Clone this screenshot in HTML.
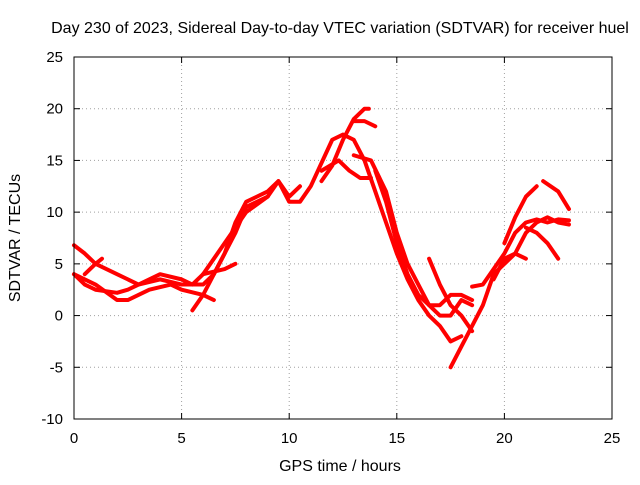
<!DOCTYPE html>
<html><head><meta charset="utf-8"><style>
body{margin:0;background:#fff;font-family:"Liberation Sans",sans-serif}
svg text{font-family:"Liberation Sans",sans-serif;font-size:15px;fill:#000}
svg text.big{font-size:16px}
</style></head><body>
<svg id="c" width="640" height="480" xmlns="http://www.w3.org/2000/svg"></svg>
<script>
const xTicks=[0,5,10,15,20,25];
const yTicks=[-10,-5,0,5,10,15,20,25];
const trackNames=["t1","t2","t3","t4","t5","t6","t7","t8","t9","t10","t11","t12","t13","t14","t15","t16","t17","t18"];
const t1=[[0,6.8],[0.5,6],[1,5],[2,4],[3,3],[4,3.5],[5,3],[6,3],[6.5,4],[7,6],[7.5,9],[8,11],[8.5,11.5],[9,12],[9.5,13],[10,11],[10.5,11],[11,12.5],[12,17],[12.5,17.5],[13,17],[13.5,15],[14,12],[14.5,9],[15,6],[15.5,3.5],[16,1.5],[16.5,0],[17,-1],[17.5,-2.5],[18,-2]];
const t2=[[0,4],[0.5,3],[1,2.5],[2,2.2],[2.5,2.5],[3,3],[4,4],[5,3.5],[5.5,3],[6,4],[7,7],[8,10],[9,11.5],[9.5,13],[10,11.5],[10.5,12.5]];
const t3=[[0.5,4],[1,5],[1.3,5.5]];
const t4=[[0,4],[1,3],[2,1.5],[2.5,1.5],[3.5,2.5],[4.5,3],[5,2.5],[6,2],[6.5,1.5]];
const t5=[[5.5,0.5],[6,2],[6.5,4],[7,6],[7.5,8],[8,10.5],[8.5,11],[9,11.5]];
const t6=[[6,4],[7,4.5],[7.5,5]];
const t7=[[11.5,13],[12,14.5],[12.5,17],[13,19],[13.5,20],[13.7,20]];
const t8=[[13,18.8],[13.5,18.8],[14,18.3]];
const t9=[[11.5,14],[12.3,15],[12.8,14],[13.3,13.3],[13.8,13.3]];
const t10=[[13,15.5],[13.8,15],[14.5,12],[15,8],[15.5,5],[16,3],[16.5,1],[17,0],[17.5,0],[18,1.5],[18.5,1]];
const t11=[[14,14],[14.5,11],[15,7],[15.5,4],[16,2],[16.5,1],[17,1],[17.5,2],[18,2],[18.5,1.5]];
const t12=[[16.5,5.5],[17,3],[17.5,1],[18,0],[18.5,-1.5]];
const t13=[[17.5,-5],[18,-3],[18.5,-1],[19,1],[19.5,4],[20,5],[20.5,6],[21,8],[21.5,9],[22,9.5],[22.5,9],[23,8.8]];
const t14=[[18.5,2.8],[19,3],[19.5,4.5],[20,6],[20.5,8],[21,9],[21.5,9.3],[22,9],[22.5,9.3],[23,9.2]];
const t15=[[19.5,3.5],[20,5.5],[20.5,6],[21,5.5]];
const t16=[[20,7],[20.5,9.5],[21,11.5],[21.5,12.5]];
const t17=[[21.8,13],[22.5,12],[23,10.3]];
const t18=[[21,8.5],[21.5,8],[22,7],[22.5,5.5]];
const tracks=[t1,t2,t3,t4,t5,t6,t7,t8,t9,t10,t11,t12,t13,t14,t15,t16,t17,t18];
const L=74,R=612,T=57,B=419,NS="http://www.w3.org/2000/svg";
const sx=v=>L+(v-0)/(25-0)*(R-L);
const sy=v=>B-(v+10)/(35)*(B-T);
const svg=document.getElementById('c');
function mk(tag,a){const e=document.createElementNS(NS,tag);for(const k in a)e.setAttribute(k,a[k]);svg.appendChild(e);return e;}
xTicks.forEach(v=>{
  if(v>0&&v<25){const g=mk('line',{x1:sx(v),x2:sx(v),y1:T,y2:B,stroke:'#a0a0a0','stroke-dasharray':'1,3'});
  }
  mk('line',{x1:sx(v),x2:sx(v),y1:B,y2:B-6,stroke:'#000'});mk('line',{x1:sx(v),x2:sx(v),y1:T,y2:T+6,stroke:'#000'});
  const t=mk('text',{x:sx(v),y:B+24,'text-anchor':'middle'});t.textContent=v;
  
});
yTicks.forEach(v=>{
  if(v>-10&&v<25){const g=mk('line',{x1:L,x2:R,y1:sy(v),y2:sy(v),stroke:'#a0a0a0','stroke-dasharray':'1,3'});
  }
  mk('line',{x1:L,x2:L+6,y1:sy(v),y2:sy(v),stroke:'#000'});mk('line',{x1:R,x2:R-6,y1:sy(v),y2:sy(v),stroke:'#000'});
  const t=mk('text',{x:L-11,y:sy(v)+5,'text-anchor':'end'});t.textContent=v;
  
});
tracks.forEach((tr,i)=>{
  const p=mk('polyline',{points:tr.map(d=>sx(d[0])+','+sy(d[1])).join(' '),fill:'none',stroke:'#ff0000','stroke-width':4,'stroke-linejoin':'round','stroke-linecap':'round'});
  
  
});
const f=mk('rect',{x:L,y:T,width:R-L,height:B-T,fill:'none',stroke:'#000'});

const ti=mk('text',{x:340,y:33,'text-anchor':'middle','class':'big'});ti.textContent='Day 230 of 2023, Sidereal Day-to-day VTEC variation (SDTVAR) for receiver huel';

const xl=mk('text',{x:340,y:471,'text-anchor':'middle','class':'big'});xl.textContent='GPS time / hours';

const yl=mk('text',{x:0,y:0,'text-anchor':'middle','class':'big',transform:'translate(20,238) rotate(-90)'});yl.textContent='SDTVAR / TECUs';

</script>
</body></html>
